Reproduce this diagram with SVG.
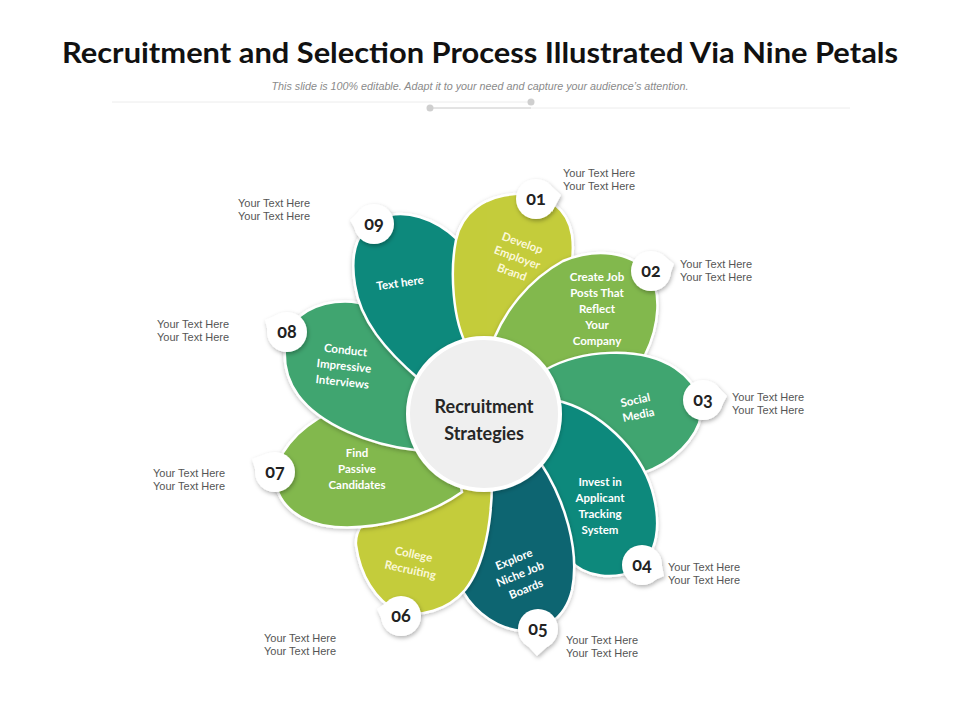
<svg xmlns="http://www.w3.org/2000/svg" width="960" height="720" viewBox="0 0 960 720">
<defs>
<filter id="sh" x="-20%" y="-20%" width="140%" height="140%">
<feDropShadow dx="0" dy="1.5" stdDeviation="2" flood-color="#000" flood-opacity="0.25"/>
</filter>
<filter id="bsh" x="-40%" y="-40%" width="180%" height="180%">
<feDropShadow dx="1" dy="2" stdDeviation="2" flood-color="#000" flood-opacity="0.3"/>
</filter>
<clipPath id="c01"><rect x="430" y="180" width="57" height="172"/></clipPath>
<path id="p01" d="M 468,348 C 452,320 450,270 456,240 C 462,212 485,196 515,194 C 548,192 568,210 572,235 C 576,265 566,305 530,350 Z"/>
</defs>
<style>
.petal{stroke:#fff;stroke-width:2.5;filter:url(#sh)}
.c1{fill:#c4cc3a}.c2{fill:#82b84e}.c3{fill:#3fa56f}.c4{fill:#0f897c}.c5{fill:#0d6571}
.pt{font-family:Lato,"Open Sans",sans-serif;font-weight:700;font-size:11.5px;fill:#fff;text-anchor:middle}
.pty{fill:#fbf8d8}
.yt{font-family:"Liberation Sans",Arial,sans-serif;font-size:11px;fill:#555}
.badge{fill:#fff;filter:url(#bsh)}
.num{font-family:Lato,"Open Sans",sans-serif;font-weight:700;font-size:18px;fill:#222;text-anchor:middle;font-variant-numeric:oldstyle-nums}
</style>
<rect width="960" height="720" fill="#fff"/>
<g id="header">
<text x="480" y="63" text-anchor="middle" font-family="Lato,'Open Sans',sans-serif" font-weight="700" font-size="29" fill="#111" textLength="836" lengthAdjust="spacingAndGlyphs">Recruitment and Selection Process Illustrated Via Nine Petals</text>
<text x="480" y="90" text-anchor="middle" font-family="'Liberation Sans',Arial,sans-serif" font-style="italic" font-size="10" fill="#8a8a8a" textLength="417" lengthAdjust="spacingAndGlyphs">This slide is 100% editable. Adapt it to your need and capture your audience’s attention.</text>
<line x1="112" y1="102" x2="531" y2="102" stroke="#ececec" stroke-width="1"/>
<line x1="531" y1="108" x2="850" y2="108" stroke="#ececec" stroke-width="1"/>
<line x1="430" y1="108" x2="531" y2="108" stroke="#c8c8c8" stroke-width="1"/>
<circle cx="531" cy="102" r="3.5" fill="#cfcfcf"/>
<circle cx="430" cy="108" r="3.5" fill="#cfcfcf"/>
</g>
<g id="petals">
<g id="petal-01"><use href="#p01" class="petal c1"/></g>
<g id="petal-02"><path class="petal c2" d="M 490,350 C 502,312 530,279 563,261 C 597,247 630,252 648,272 C 662,290 660,325 645,355 C 620,390 560,400 500,380 Z"/></g>
<g id="petal-03"><path class="petal c3" d="M 545,370 C 580,350 640,345 675,368 C 700,385 708,410 695,432 C 680,458 650,475 620,478 C 590,480 560,460 540,440 Z"/></g>
<g id="petal-04"><path class="petal c4" d="M 555,400 C 600,410 640,450 652,490 C 662,525 658,555 635,570 C 615,580 585,578 570,560 C 555,540 545,500 535,460 Z"/></g>
<g id="petal-05"><path class="petal c5" d="M 540,462 C 565,500 580,550 572,590 C 565,620 540,635 515,630 C 490,625 468,605 460,585 C 455,560 470,520 490,480 Z"/></g>
<g id="petal-06"><path class="petal c1" d="M 492,480 C 492,520 485,565 465,590 C 448,610 420,618 398,612 C 375,600 360,575 356,545 C 354,520 380,500 470,475 Z"/></g>
<g id="petal-07"><path class="petal c2" d="M 462,492 C 430,515 380,530 335,527 C 300,524 278,505 275,480 C 275,455 295,430 330,412 C 370,400 420,420 450,440 Z"/></g>
<g id="petal-08"><path class="petal c3" d="M 415,450 C 370,445 320,425 298,395 C 280,370 280,335 300,316 C 320,300 350,298 370,306 C 395,318 420,345 440,380 Z"/></g>
<g id="petal-09"><path class="petal c4" d="M 420,380 C 385,350 360,320 355,285 C 350,255 355,230 380,218 C 405,208 435,218 458,240 C 475,270 478,320 470,360 Z"/></g>
<g id="petal-01-top" clip-path="url(#c01)"><use href="#p01" class="c1" stroke="#fff" stroke-width="2.5"/></g>
</g>
<g id="center">
<circle cx="484" cy="414" r="76" fill="#efefef" stroke="#fff" stroke-width="4" filter="url(#sh)"/>
<text x="484" y="413" text-anchor="middle" font-family="Lato,'Open Sans',sans-serif" font-weight="700" font-size="18" fill="#262626">Recruitment</text>
<text x="484" y="440" text-anchor="middle" font-family="Lato,'Open Sans',sans-serif" font-weight="700" font-size="18" fill="#262626">Strategies</text>
</g>
<g id="petal-labels">
<g transform="rotate(20 517 258)"><text class="pt pty" x="517" y="246">Develop</text><text class="pt pty" x="517" y="261.5">Employer</text><text class="pt pty" x="517" y="277">Brand</text></g>
<g><text class="pt" x="597" y="281">Create Job</text><text class="pt" x="597" y="297">Posts That</text><text class="pt" x="597" y="313">Reflect</text><text class="pt" x="597" y="329">Your</text><text class="pt" x="597" y="345">Company</text></g>
<g transform="rotate(-12 637 408)"><text class="pt" x="637" y="404">Social</text><text class="pt" x="637" y="419">Media</text></g>
<g><text class="pt" x="600" y="486">Invest in</text><text class="pt" x="600" y="502">Applicant</text><text class="pt" x="600" y="518">Tracking</text><text class="pt" x="600" y="534">System</text></g>
<g transform="rotate(-22 520 574)"><text class="pt" x="520" y="562">Explore</text><text class="pt" x="520" y="578">Niche Job</text><text class="pt" x="520" y="594">Boards</text></g>
<g transform="rotate(12 412 562)"><text class="pt pty" x="412" y="558">College</text><text class="pt pty" x="412" y="574">Recruiting</text></g>
<g><text class="pt" x="357" y="457">Find</text><text class="pt" x="357" y="473">Passive</text><text class="pt" x="357" y="489">Candidates</text></g>
<g transform="rotate(6 344 366)"><text class="pt" x="344" y="354">Conduct</text><text class="pt" x="344" y="370">Impressive</text><text class="pt" x="344" y="386">Interviews</text></g>
<g transform="rotate(-8 400 283)"><text class="pt" x="400" y="287">Text here</text></g>
</g>
<g id="badges">
<g id="badge-01"><g class="badge"><circle cx="536" cy="199" r="20"/><path d="M 550,185 L 561,195 L 552,212 Z"/></g><text class="num" x="536" y="205">01</text></g>
<g id="badge-02"><g class="badge"><circle cx="651" cy="271" r="20"/><path d="M 664,256 L 674,264 L 667,283 Z"/></g><text class="num" x="651" y="277">02</text></g>
<g id="badge-03"><g class="badge"><circle cx="703" cy="400" r="20"/><path d="M 716,385 L 727,396 L 718,413 Z"/></g><text class="num" x="703" y="406">03</text></g>
<g id="badge-04"><g class="badge"><circle cx="642" cy="565" r="20"/><path d="M 660,556 L 664,576 L 648,583 Z"/></g><text class="num" x="642" y="571">04</text></g>
<g id="badge-05"><g class="badge"><circle cx="538" cy="629" r="20"/><path d="M 527,645 L 537,656 L 549,645 Z"/></g><text class="num" x="538" y="635">05</text></g>
<g id="badge-06"><g class="badge"><circle cx="401" cy="616" r="20"/><path d="M 387,602 L 377,609 L 386,629 Z"/></g><text class="num" x="401" y="622">06</text></g>
<g id="badge-07"><g class="badge"><circle cx="275" cy="472" r="20"/><path d="M 268,453 L 252,459 L 258,479 Z"/></g><text class="num" x="275" y="478">07</text></g>
<g id="badge-08"><g class="badge"><circle cx="287" cy="332" r="20"/><path d="M 279,314 L 265,320 L 270,340 Z"/></g><text class="num" x="287" y="338">08</text></g>
<g id="badge-09"><g class="badge"><circle cx="374" cy="224" r="20"/><path d="M 365,206 L 350,220 L 360,238 Z"/></g><text class="num" x="374" y="230">09</text></g>
</g>
<g id="side-texts">
<text class="yt" x="563" y="177">Your Text Here</text><text class="yt" x="563" y="190">Your Text Here</text>
<text class="yt" x="680" y="268">Your Text Here</text><text class="yt" x="680" y="281">Your Text Here</text>
<text class="yt" x="732" y="401">Your Text Here</text><text class="yt" x="732" y="414">Your Text Here</text>
<text class="yt" x="668" y="571">Your Text Here</text><text class="yt" x="668" y="584">Your Text Here</text>
<text class="yt" x="566" y="644">Your Text Here</text><text class="yt" x="566" y="657">Your Text Here</text>
<text class="yt" x="264" y="642">Your Text Here</text><text class="yt" x="264" y="655">Your Text Here</text>
<text class="yt" x="153" y="477">Your Text Here</text><text class="yt" x="153" y="490">Your Text Here</text>
<text class="yt" x="157" y="328">Your Text Here</text><text class="yt" x="157" y="341">Your Text Here</text>
<text class="yt" x="238" y="207">Your Text Here</text><text class="yt" x="238" y="220">Your Text Here</text>
</g>
</svg>
